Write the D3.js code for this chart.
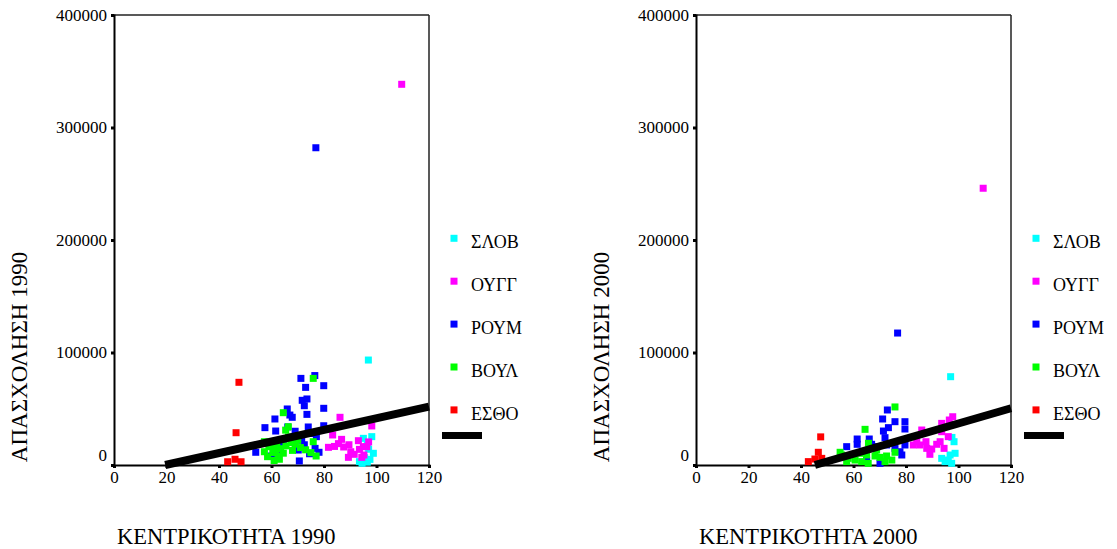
<!DOCTYPE html>
<html>
<head>
<meta charset="utf-8">
<script src="https://cdn.jsdelivr.net/npm/d3@7"></script>
<style>
  html, body { margin: 0; padding: 0; background: #fff; }
  svg { display: block; }
  text { font-family: "Liberation Serif", "Times New Roman", serif; fill: #000; }
</style>
</head>
<body>
<svg id="chart" width="1117" height="549"></svg>
<script>
// ---------- data ----------
const categories = ["ΣΛΟΒ", "ΟΥΓΓ", "ΡΟΥΜ", "ΒΟΥΛ", "ΕΣΘΟ"];
const seriesColors = ["#00ffff", "#ff00ff", "#0000ff", "#00ff00", "#ff0000"];
const xTickValues = [0, 20, 40, 60, 80, 100, 120];
const yTickValues = [0, 100000, 200000, 300000, 400000];
const xTitles = ["ΚΕΝΤΡΙΚΟΤΗΤΑ 1990", "ΚΕΝΤΡΙΚΟΤΗΤΑ 2000"];
const yTitles = ["ΑΠΑΣΧΟΛΗΣΗ 1990", "ΑΠΑΣΧΟΛΗΣΗ 2000"];

// 1990: [centrality, employment]
const slov1990 = [[96.9,93300],[98.2,25200],[95.0,23700],[96.5,20000],[98.8,10400],[93.5,3000],[96.5,2500],[95.5,6500],[97.5,5000],[94.5,1500],[97.0,14000]];
const oygg1990 = [[109.6,338400],[86.1,42400],[98.2,34700],[83.3,26700],[86.7,22800],[81.7,15700],[84.0,16500],[85.5,19000],[87.5,16000],[89.5,18000],[90.2,11800],[89.3,6800],[93.1,21600],[93.5,13900],[95.0,16300],[96.3,16300],[95.2,8900],[94.4,6800],[91.5,9500],[97.0,20500]];
const roym1990 = [[76.9,282000],[71.2,77000],[76.5,79500],[73.0,69000],[79.9,70500],[71.7,57500],[73.5,58700],[72.5,52700],[79.9,50400],[66.0,49800],[67.9,42400],[67.0,44400],[73.5,45000],[61.3,40900],[57.5,33200],[61.6,30200],[66.2,33800],[74.0,33800],[79.9,34900],[77.1,25200],[71.5,22000],[76.6,14800],[78.1,11300],[54.0,11300],[70.6,3600],[70.2,13300],[63.0,12000],[60.0,8000],[72.5,18000],[75.0,28000],[69.0,30000],[64.5,20000],[74.5,10000]];
const boyl1990 = [[75.9,77000],[64.5,46500],[66.4,34000],[65.4,31000],[57.3,20700],[59.0,16300],[61.0,15500],[63.5,14500],[65.5,17000],[57.3,11800],[58.5,7400],[60.5,11000],[62.5,8000],[63.0,5100],[61.0,4000],[64.5,10500],[61.5,12500],[67.5,20000],[69.0,18500],[71.0,15500],[73.0,13500],[75.0,11000],[75.9,20700],[77.0,8000],[68.0,13000],[70.0,22000],[66.5,25000],[62.0,18500]];
const estho1990 = [[47.6,73500],[46.5,28700],[43.3,2900],[46.1,5100],[48.4,2900]];
const fit1990 = [-10085, 517]; // [intercept, slope]

// 2000
const slov2000 = [[97.0,78500],[98.3,20700],[98.7,10400],[93.6,5900],[96.1,4400],[96.8,8900],[97.4,1500],[94.9,3000],[97.5,24500]];
const oygg2000 = [[109.4,246000],[97.8,42900],[96.5,40000],[93.6,37000],[86.0,31100],[93.6,29600],[96.1,25200],[82.8,17800],[85.3,17800],[87.6,20700],[89.8,14200],[89.1,9500],[93.0,20700],[94.5,14800],[87.9,14800],[91.7,18400],[84.1,20700]];
const roym2000 = [[76.8,117300],[72.9,48900],[71.1,40900],[75.8,38500],[79.6,38500],[79.6,32000],[73.3,33200],[71.4,30200],[61.4,23100],[61.4,18400],[66.0,23100],[72.0,24300],[72.6,17800],[57.4,16300],[66.9,18400],[77.7,11800],[78.4,8900],[70.1,1500],[56.8,7400],[65.0,4400],[79.6,17800],[75.8,14800],[68.8,16300]];
const boyl2000 = [[75.8,51600],[64.4,31700],[65.7,19300],[54.9,11300],[58.0,5900],[57.4,3000],[60.6,4400],[63.1,3000],[65.0,8900],[68.2,8000],[70.1,6800],[72.6,8000],[74.6,4400],[75.8,11300],[68.8,13300],[66.9,14800],[55.5,8900],[62.5,10400],[72.0,3000],[65.6,1500]];
const estho2000 = [[47.5,25000],[46.6,11300],[42.8,3000],[45.3,5300],[47.9,5900]];
const fit2000 = [-30570, 675];

const panels = [
  { series: [slov1990, oygg1990, roym1990, boyl1990, estho1990], fit: fit1990, x0: 114, x1: 429, xT: xTitles[0], yT: yTitles[0], legX: 454, barX: 442 },
  { series: [slov2000, oygg2000, roym2000, boyl2000, estho2000], fit: fit2000, x0: 696, x1: 1011, xT: xTitles[1], yT: yTitles[1], legX: 1036, barX: 1024 }
];

const svg = d3.select("#chart");
const yTop = 15, yBot = 465;
const sq = 7;

panels.forEach((p) => {
  const x = d3.scaleLinear().domain([0, 120]).range([p.x0, p.x1]);
  const y = d3.scaleLinear().domain([0, 400000]).range([yBot, yTop]);
  const g = svg.append("g");

  // frame (top & right)
  g.append("line").attr("x1", p.x0).attr("x2", p.x1).attr("y1", yTop).attr("y2", yTop)
    .attr("stroke", "#222").attr("stroke-width", 1.5);
  g.append("line").attr("x1", p.x1).attr("x2", p.x1).attr("y1", yTop).attr("y2", yBot)
    .attr("stroke", "#222").attr("stroke-width", 1.5);

  // axes
  const xAxis = d3.axisBottom(x).tickValues(xTickValues).tickSize(3).tickPadding(3).tickFormat(d3.format("d"));
  const yAxis = d3.axisLeft(y).tickValues(yTickValues).tickSize(3).tickPadding(4).tickFormat(d3.format("d"));
  const gx = g.append("g").attr("transform", `translate(0,${yBot})`).call(xAxis);
  const gy = g.append("g").attr("transform", `translate(${p.x0},0)`).call(yAxis);
  [gx, gy].forEach(a => {
    a.select(".domain").attr("stroke", "#000").attr("stroke-width", 2);
    a.selectAll(".tick line").attr("stroke", "#000").attr("stroke-width", 3);
    a.selectAll(".tick text").style("font-family", "'Liberation Serif', serif").style("font-size", "17px").attr("fill", "#000");
  });
  gy.selectAll(".tick text").filter(d => d === 0).attr("dy", "-0.25em");

  // points
  p.series.forEach((pts, i) => {
    g.append("g").selectAll("rect").data(pts).join("rect")
      .attr("x", d => x(d[0]) - sq / 2)
      .attr("y", d => y(d[1]) - sq / 2)
      .attr("width", sq).attr("height", sq)
      .attr("fill", seriesColors[i]);
  });

  // fit line
  const a = p.fit[0], b = p.fit[1];
  const xs = Math.max(0, -a / b);
  g.append("line")
    .attr("x1", x(xs)).attr("y1", y(a + b * xs))
    .attr("x2", x(120)).attr("y2", y(a + b * 120))
    .attr("stroke", "#000").attr("stroke-width", 8).attr("stroke-linecap", "butt");

  // titles
  g.append("text").attr("x", p.x0 + 3).attr("y", 544).style("font-size", "22.5px").text(p.xT);
  g.append("text").attr("transform", `translate(${p.x0 - 87},357) rotate(-90)`)
    .attr("text-anchor", "middle").style("font-size", "23px").text(p.yT);

  // legend
  categories.forEach((c, i) => {
    const cy = 238.3 + i * 42.9;
    g.append("rect").attr("x", p.legX - sq / 2).attr("y", cy - sq / 2).attr("width", sq).attr("height", sq).attr("fill", seriesColors[i]);
    g.append("text").attr("x", p.legX + 17).attr("y", cy + 10).style("font-size", "18px").text(c);
  });
  g.append("rect").attr("x", p.barX).attr("y", 432).attr("width", 40).attr("height", 7).attr("fill", "#000");
});
</script>
</body>
</html>
